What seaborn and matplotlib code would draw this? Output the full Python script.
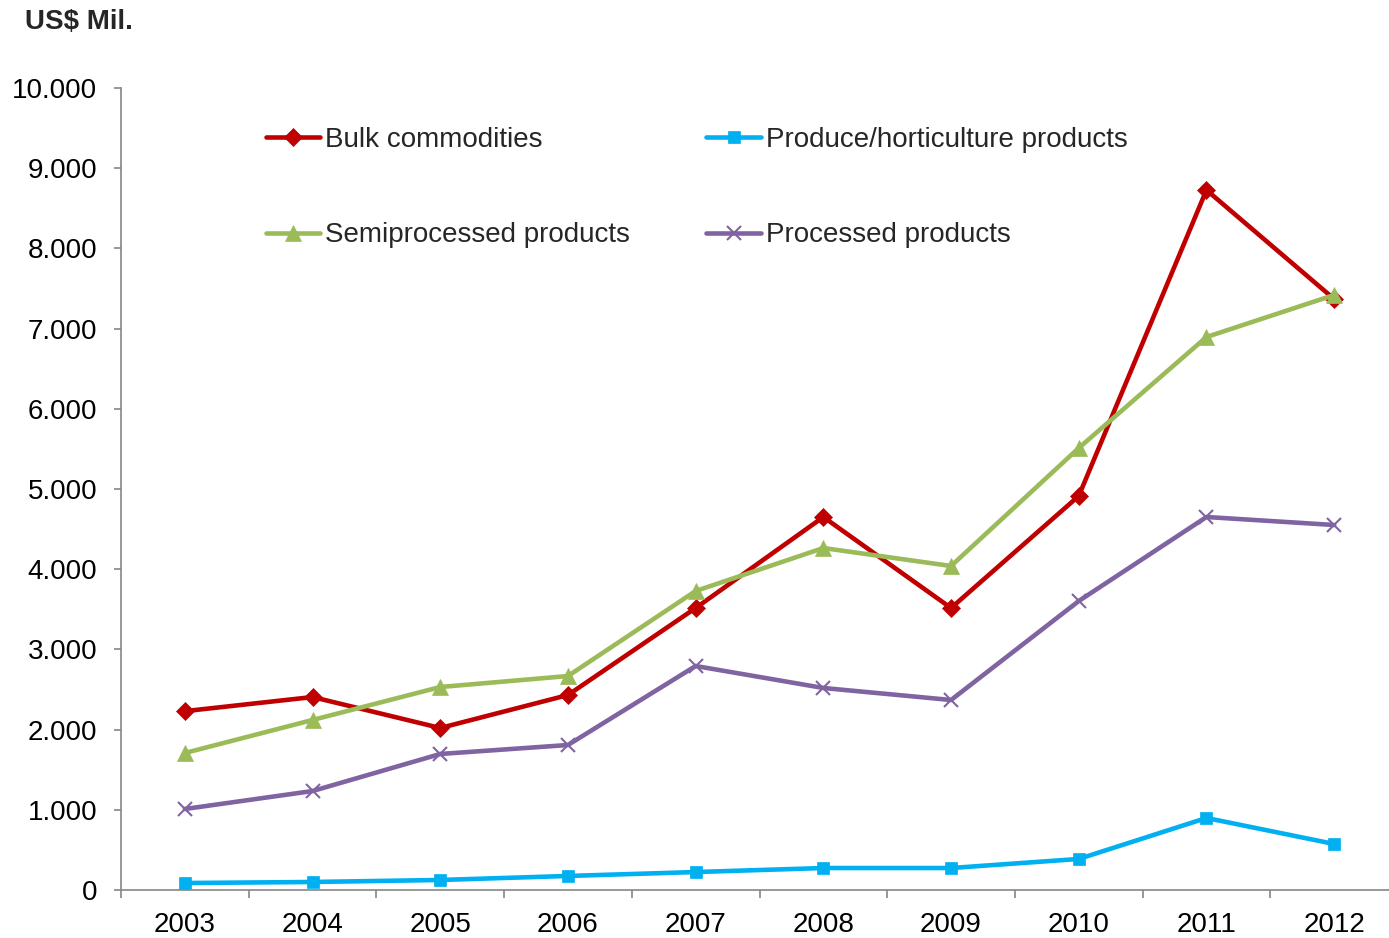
import matplotlib
matplotlib.use("Agg")
import matplotlib.pyplot as plt
import seaborn as sns
import pandas as pd
from matplotlib.ticker import FuncFormatter, MultipleLocator, FixedLocator

years = ["2003", "2004", "2005", "2006", "2007", "2008", "2009", "2010", "2011", "2012"]
bulk = [2230, 2406, 2020, 2431, 3516, 4651, 3516, 4913, 8728, 7369]
semi = [1708, 2120, 2531, 2668, 3728, 4264, 4040, 5511, 6895, 7419]
produce = [87, 100, 125, 175, 224, 274, 274, 387, 898, 574]
processed = [1010, 1234, 1696, 1808, 2793, 2519, 2369, 3603, 4651, 4551]

series = {
    "Bulk commodities": bulk,
    "Semiprocessed products": semi,
    "Produce/horticulture products": produce,
    "Processed products": processed,
}
colors = {
    "Bulk commodities": "#C00000",
    "Semiprocessed products": "#9BBB59",
    "Produce/horticulture products": "#00B0F0",
    "Processed products": "#8064A2",
}
markers = {
    "Bulk commodities": "D",
    "Semiprocessed products": "^",
    "Produce/horticulture products": "s",
    "Processed products": "x",
}
msizes = {
    "Bulk commodities": 9,
    "Semiprocessed products": 11,
    "Produce/horticulture products": 8,
    "Processed products": 10,
}

sns.set_theme(style="white")
plt.rcParams["font.family"] = ["Liberation Sans", "DejaVu Sans"]

fig = plt.figure(figsize=(13.89, 9.38), dpi=100)
W, H = 1389, 938
ax = fig.add_axes([121 / W, 1 - 890 / H, 1277 / W, 802 / H])

handles = {}
for name, vals in series.items():
    df = pd.DataFrame({"x": range(len(years)), "y": vals})
    sns.lineplot(data=df, x="x", y="y", ax=ax, color=colors[name], linewidth=3.3,
                 marker=markers[name], markersize=msizes[name],
                 markeredgecolor=colors[name], markeredgewidth=1.5 if name == "Processed products" else 0.5,
                 label=name, legend=False)
    handles[name] = ax.lines[-1]

ax.set_xlim(-0.5, len(years) - 0.5)
ax.set_ylim(0, 10000)
ax.set_xlabel("")
ax.set_ylabel("")

ax.xaxis.set_major_locator(FixedLocator(range(len(years))))
ax.set_xticklabels(years)
ax.xaxis.set_minor_locator(FixedLocator([i - 0.5 for i in range(len(years) + 1)]))
ax.tick_params(axis="x", which="major", length=0, pad=16, labelsize=20, colors="black")
ax.tick_params(axis="x", which="minor", bottom=True, length=6, width=1.2, color="#868686", direction="out")

ax.yaxis.set_major_locator(MultipleLocator(1000))
ax.yaxis.set_major_formatter(FuncFormatter(lambda v, p: f"{int(v):,}".replace(",", ".")))
ax.tick_params(axis="y", which="major", left=True, length=5, width=1.2, color="#868686",
               direction="out", pad=12, labelsize=20, labelcolor="black")

for s in ["top", "right"]:
    ax.spines[s].set_visible(False)
for s in ["left", "bottom"]:
    ax.spines[s].set_color("#868686")
    ax.spines[s].set_linewidth(1.2)

order = ["Bulk commodities", "Semiprocessed products",
         "Produce/horticulture products", "Processed products"]
leg = fig.legend([handles[n] for n in order], order, ncol=2, loc="upper left",
                 bbox_to_anchor=(266 / W, 1 - 127 / H), frameon=False, fontsize=20,
                 handlelength=1.95, handletextpad=0.18, columnspacing=2.75,
                 labelspacing=2.5, borderpad=0, borderaxespad=0)

fig.text(25 / W, 1 - 22 / H, "US$ Mil.", fontsize=20, fontweight="bold", va="center", ha="left")

fig.savefig("out.png", dpi=100)
